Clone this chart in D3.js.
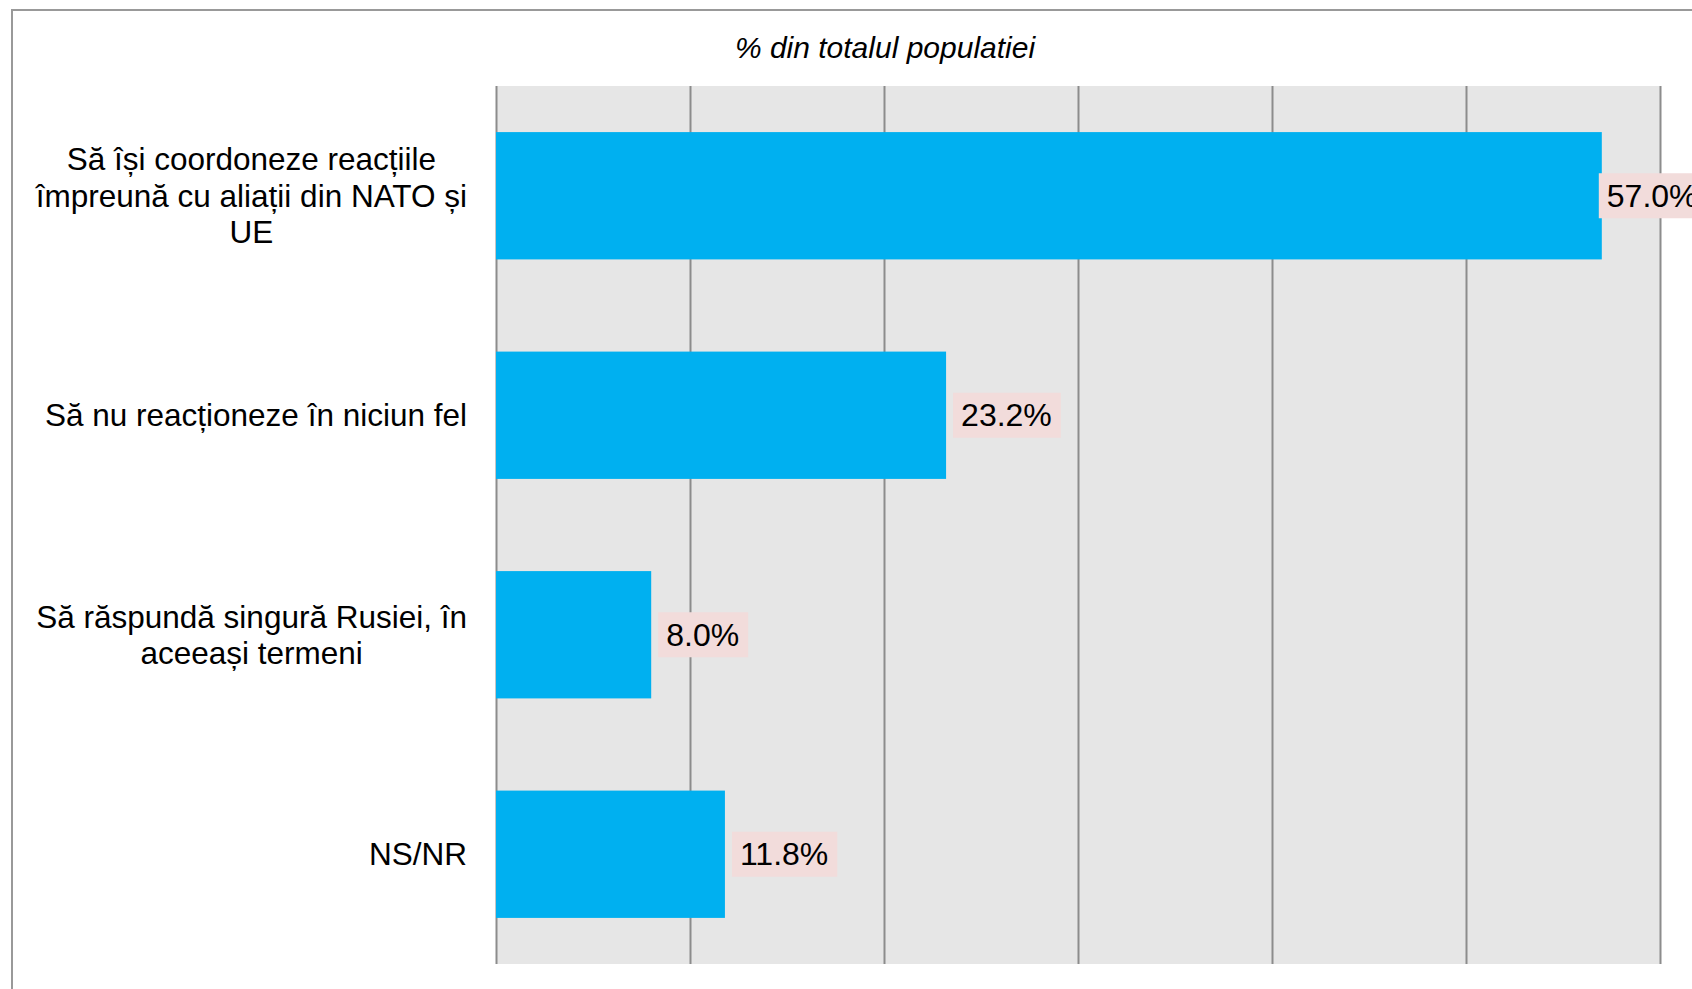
<!DOCTYPE html>
<html>
<head>
<meta charset="utf-8">
<script src="https://cdn.jsdelivr.net/npm/d3@7"></script>
<style>
  html, body { margin: 0; padding: 0; background: #fff; overflow: hidden; }
  svg { display: block; font-family: "Liberation Sans", Arial, sans-serif; }
</style>
</head>
<body>
<svg id="chart" width="1692" height="989"></svg>
<script>
const title = "% din totalul populatiei";
const categories = [
  ["Să își coordoneze reacțiile", "împreună cu aliații din NATO și", "UE"],
  ["Să nu reacționeze în niciun fel"],
  ["Să răspundă singură Rusiei, în", "aceeași termeni"],
  ["NS/NR"]
];
const values = [57.0, 23.2, 8.0, 11.8];
const xTicks = [0, 10, 20, 30, 40, 50, 60];

const svg = d3.select("#chart");
const W = 1692, H = 989;

// outer frame
svg.append("rect")
  .attr("x", 12).attr("y", 10)
  .attr("width", 1800).attr("height", 1100)
  .attr("fill", "#fff").attr("stroke", "#999").attr("stroke-width", 2);

const plot = { left: 496, right: 1660, top: 86, bottom: 964 };

const x = d3.scaleLinear().domain([0, 60]).range([plot.left, plot.right]);
const y = d3.scaleBand().domain(d3.range(categories.length))
  .range([plot.top, plot.bottom]).paddingInner(0.42).paddingOuter(0.21);

svg.append("rect")
  .attr("x", plot.left).attr("y", plot.top)
  .attr("width", plot.right - plot.left).attr("height", plot.bottom - plot.top)
  .attr("fill", "#e6e6e6");

// gridlines via axis
const gridAxis = d3.axisBottom(x).tickValues(xTicks).tickSize(-(plot.bottom - plot.top)).tickFormat("");
const g = svg.append("g").attr("transform", `translate(0,${plot.bottom})`).call(gridAxis);
g.select(".domain").remove();
g.selectAll(".tick line").attr("stroke", "#8c8c8c").attr("stroke-width", 2);

// bars
svg.selectAll("rect.bar").data(values).join("rect")
  .attr("class", "bar")
  .attr("x", x(0)).attr("y", (d, i) => y(i))
  .attr("width", d => x(d) - x(0)).attr("height", y.bandwidth())
  .attr("fill", "#00b0f0");

// value labels (pushed inward when they would run past the plot's right edge)
const lab = svg.selectAll("g.vlab").data(values).join("g").attr("class", "vlab")
  .attr("transform", (d, i) => {
    const off = x(d) + 110 > plot.right ? -3 : 7;
    return `translate(${x(d) + off},${y(i) + y.bandwidth() / 2})`;
  });
lab.append("rect").attr("class", "bg").attr("fill", "#f2dcdb");
lab.append("text")
  .attr("x", 8).attr("dy", "0.35em")
  .attr("font-size", 32).attr("fill", "#000")
  .text(d => d.toFixed(1) + "%");
lab.each(function () {
  const t = d3.select(this).select("text").node().getBBox();
  d3.select(this).select("rect.bg")
    .attr("x", 0).attr("y", -22.5).attr("width", t.width + 17).attr("height", 45);
});

// category labels
const lineH = 36.5;
categories.forEach((lines, i) => {
  const cy = y(i) + y.bandwidth() / 2;
  const gt = svg.append("g");
  const n = lines.length;
  const texts = lines.map((l, k) => gt.append("text")
    .attr("text-anchor", "middle").attr("font-size", 31.5).attr("fill", "#000")
    .attr("y", cy + (k - (n - 1) / 2) * lineH).attr("dy", "0.35em").text(l));
  const maxW = d3.max(texts, t => t.node().getComputedTextLength());
  texts.forEach(t => t.attr("x", 467 - maxW / 2));
});

// title
svg.append("text")
  .attr("x", 885).attr("y", 58)
  .attr("text-anchor", "middle").attr("font-size", 30).attr("font-style", "italic")
  .attr("fill", "#000").text(title);
</script>
</body>
</html>
